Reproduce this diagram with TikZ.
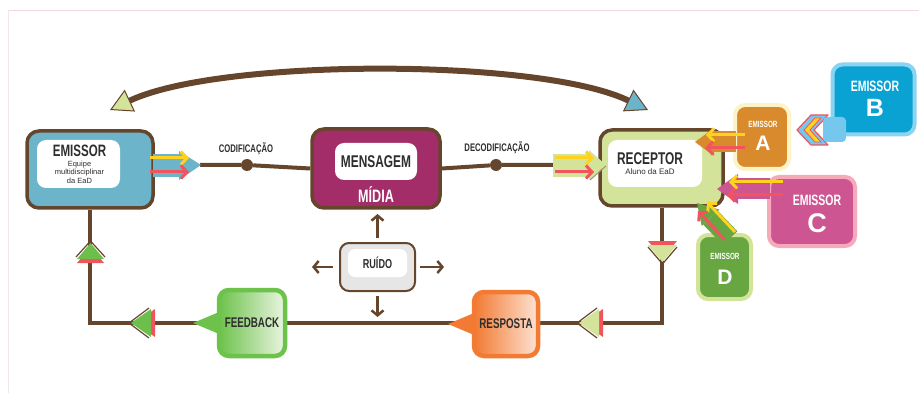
\documentclass[tikz,border=0pt]{standalone}
\usepackage{fontspec}
\setmainfont{Liberation Sans}
\newfontfamily\condfont[FakeStretch=0.7]{Liberation Sans}
\usetikzlibrary{positioning,arrows.meta}
\pgfdeclarelayer{background}
\pgfsetlayers{background,main}

\definecolor{brownline}{HTML}{65452B}
\definecolor{darktext}{HTML}{2E2E2E}
\definecolor{emblue}{HTML}{6CB4CA}
\definecolor{magmid}{HTML}{A32D68}
\definecolor{recgreen}{HTML}{D3E39A}
\definecolor{midgreen}{HTML}{6CBF4B}
\definecolor{arrowyellow}{HTML}{FFD21F}
\definecolor{arrowred}{HTML}{F2545B}
\definecolor{orangeA}{HTML}{D98A2C}
\definecolor{rimA}{HTML}{FCF3C6}
\definecolor{blueB}{HTML}{0AA2D3}
\definecolor{rimB}{HTML}{8AD3F1}
\definecolor{tabB}{HTML}{76C7EE}
\definecolor{magC}{HTML}{CD5592}
\definecolor{rimC}{HTML}{F6A9BB}
\definecolor{greenD}{HTML}{67A640}
\definecolor{rimD}{HTML}{D3E39A}
\definecolor{fbgreen}{HTML}{6DC24B}
\definecolor{fbpale}{HTML}{EAF5E2}
\definecolor{resporange}{HTML}{F27A32}
\definecolor{resppale}{HTML}{FDE3D3}
\definecolor{ruidogray}{HTML}{E6E6E6}
\definecolor{framepink}{HTML}{F2D8DC}
\definecolor{framegray}{HTML}{F0E8E8}

\tikzstyle{caixa} = [rectangle,rounded corners=12pt,draw=brownline,line width=3.5pt,inner sep=0pt]
\tikzstyle{miolo} = [rectangle,rounded corners=9pt,fill=white,inner sep=0pt]
\tikzstyle{titulo} = [font=\condfont\bfseries\fontsize{17}{17}\selectfont,text=darktext,inner sep=0pt]
\tikzstyle{legenda} = [font=\fontsize{7.5}{8.3}\selectfont,text=darktext,align=center,inner sep=0pt]
\tikzstyle{rotulo} = [font=\condfont\bfseries\fontsize{11}{11}\selectfont,text=darktext,inner sep=0pt]
\tikzstyle{fluxo} = [draw=brownline,line width=4pt]
\tikzstyle{ponto} = [circle,fill=brownline,minimum size=12pt,inner sep=0pt]
\tikzstyle{seta} = [line width=3pt,-{Straight Barb[length=6pt,width=13pt]}]
\tikzstyle{ruidoseta} = [draw=brownline,line width=2.5pt,-{Straight Barb[length=5pt,width=12pt]}]
\tikzstyle{retorno} = [rectangle,rounded corners=10pt,line width=4.5pt,inner sep=0pt,font=\condfont\bfseries\fontsize{14}{14}\selectfont,text=darktext]
\tikzstyle{lado} = [rectangle,rounded corners=10pt,line width=4pt,inner sep=0pt]
\tikzstyle{ladotxt} = [font=\condfont\bfseries\fontsize{9}{9}\selectfont,text=white,inner sep=0pt]
\tikzstyle{letra} = [font=\bfseries\fontsize{21}{21}\selectfont,text=white,inner sep=0pt]

\begin{document}
\begin{tikzpicture}[x=1pt,y=-1pt]
    \useasboundingbox (0,0) rectangle (919,393);

    % Boxes
    \node[caixa,fill=emblue,minimum width=126pt,minimum height=77pt] (emissor) at (90,169.5) {};
    \node[miolo,minimum width=83pt,minimum height=48pt] (emmiolo) at (78.5,164) {};
    \node[titulo,font=\condfont\bfseries\fontsize{16.5}{16.5}\selectfont] (emtitulo) at (79.5,151) {EMISSOR};
    \node[legenda,below=4pt of emtitulo] (emsub) {Equipe\\multidisciplinar\\da EaD};

    \node[caixa,fill=magmid,minimum width=128pt,minimum height=79pt] (mensagem) at (376,168.5) {};
    \node[miolo,titulo,minimum width=82pt,minimum height=37pt] (msgmiolo) at (376,161.5) {MENSAGEM};
    \node[titulo,text=white,font=\condfont\bfseries\fontsize{18}{18}\selectfont] (midia) at (376,195) {MÍDIA};

    \node[caixa,fill=recgreen,minimum width=123pt,minimum height=76pt] (receptor) at (661.5,168) {};
    \node[miolo,minimum width=94pt,minimum height=47pt] (recmiolo) at (655,163.5) {};
    \node[titulo] (rectitulo) at (650,159) {RECEPTOR};
    \node[legenda,font=\fontsize{8}{9}\selectfont,below=3pt of rectitulo] (recsub) {Aluno da EaD};

    \node[rectangle,rounded corners=9pt,draw=brownline,line width=2pt,fill=ruidogray,minimum width=75pt,minimum height=48pt] (ruido) at (377.5,267) {};
    \node[miolo,rounded corners=7pt,titulo,font=\condfont\bfseries\fontsize{13}{13}\selectfont,minimum width=59pt,minimum height=28pt] (ruidomiolo) at (377.5,263) {RUÍDO};

    \node[retorno,draw=resporange,left color=resporange,right color=resppale,minimum size=64pt] (resposta) at (506,324) {RESPOSTA};
    \node[retorno,draw=fbgreen,left color=fbgreen,right color=fbpale,minimum size=66pt] (feedback) at (252,323) {FEEDBACK};

    % Labels
    \node[rotulo] (codif) at (246,149) {CODIFICAÇÃO};
    \node[rotulo] (decodif) at (497,148) {DECODIFICAÇÃO};
    \node[ponto] (coddot) at (247,165) {};
    \node[ponto] (decdot) at (496,165) {};

    % Points
    \coordinate (codtail) at (200,165);
    \coordinate (dectail) at (553,165);
    \coordinate (c1) at (661.5,323);
    \coordinate (c2) at (90,323);
    \coordinate (arcR) at (648,110);
    \coordinate (arcL) at (110,110);
    \coordinate (resptip) at (448,324);
    \coordinate (fbtip) at (193,323);

    % Lines
    \begin{pgfonlayer}{background}
        \draw[framepink,line width=0.8pt] (8,10) -- (919,10);
        \draw[framegray,line width=0.8pt] (8,10) -- (8,393);
        \draw[fluxo] (codtail) -- (coddot) -- (mensagem.west);
        \draw[fluxo] (mensagem.east) -- (decdot) -- (dectail);
        \draw[fluxo] (receptor.south) -- (c1) -- (c2) -- (emissor.south);
    \end{pgfonlayer}

    % Top arc
    \draw[draw=brownline,line width=6pt,{Triangle[length=22pt,width=24pt,line width=1pt,fill=emblue]}-{Triangle[length=22pt,width=24pt,line width=1pt,fill=recgreen]}] (arcR) .. controls (540,58) and (220,58) .. (arcL);

    % Bubble pointers
    \fill[resporange] ([yshift=10pt]resposta.west) -- (resptip) -- ([yshift=-10pt]resposta.west) -- cycle;
    \fill[fbgreen] ([yshift=10pt]feedback.west) -- (fbtip) -- ([yshift=-10pt]feedback.west) -- cycle;

    % Arrow into mensagem
    \fill[emblue] (153,154) rectangle (182,177);
    \fill[emblue] (179,151) -- (201,165) -- (179,180) -- cycle;
    \draw[seta,arrowyellow] (150,158) -- (189,158);
    \draw[seta,arrowred] (150,172) -- (189,172);

    % Arrow into receptor
    \fill[recgreen] (553,154) rectangle (592,177);
    \fill[recgreen] (589,150) -- (606,165) -- (589,180) -- cycle;
    \draw[brownline!60,line width=1pt] (606,166) -- (590,180);
    \draw[seta,arrowyellow] (555,158) -- (594,158);
    \draw[seta,arrowred] (555,172) -- (594,172);

    % Loop triangles
    \fill[arrowred] (648,241) -- (677,241) -- (662.5,258) -- cycle;
    \fill[recgreen] (648,245) -- (677,245) -- (662.5,262) -- cycle;
    \draw[brownline,line width=1.2pt] (648,247) -- (662.5,264) -- (677,247);

    \fill[arrowred] (603,309) -- (603,337) -- (583,323) -- cycle;
    \fill[recgreen] (599,309) -- (599,337) -- (579,323) -- cycle;
    \draw[brownline,line width=1.2pt] (597,308) -- (577,323) -- (597,338);

    \fill[arrowred] (155,309) -- (155,337) -- (135,323) -- cycle;
    \fill[midgreen] (151,309) -- (151,337) -- (131,323) -- cycle;
    \draw[brownline,line width=1.2pt] (149,308) -- (129,323) -- (149,338);

    \fill[arrowred] (77,263) -- (104,263) -- (90.5,247) -- cycle;
    \fill[midgreen] (77,259) -- (104,259) -- (90.5,243) -- cycle;
    \draw[brownline,line width=1.2pt] (76,257) -- (90.5,241) -- (105,257);

    % Noise arrows
    \draw[ruidoseta] ([yshift=4pt]ruido.north) -- ++(0,-24);
    \draw[ruidoseta] ([xshift=-6pt]ruido.west) -- ++(-21,0);
    \draw[ruidoseta] ([xshift=4pt]ruido.east) -- ++(24,0);
    \draw[ruidoseta] ([yshift=-4pt]ruido.south) -- ++(0,21);

    % Other emissors
    \node[lado,draw=rimB,fill=blueB,minimum width=82pt,minimum height=70pt] (emb) at (873.5,99.5) {};
    \node[ladotxt,font=\condfont\bfseries\fontsize{15}{15}\selectfont] (embtxt) at (875,86) {EMISSOR};
    \node[letra,font=\bfseries\fontsize{25}{25}\selectfont] (embletra) at (875,108) {B};
    \filldraw[fill=tabB,draw=arrowred,line width=1.2pt,line join=round] (797,130) -- (811,115) -- (828,115) -- (814,130) -- (828,145) -- (811,145) -- cycle;
    \filldraw[fill=arrowyellow,draw=arrowred,line width=0.8pt] (804,130) -- (815,118) -- (821,118) -- (810,130) -- (821,142) -- (815,142) -- cycle;
    \fill[tabB,rounded corners=4pt] (823,117) rectangle (846,142);

    \node[lado,draw=rimA,fill=orangeA,minimum width=54pt,minimum height=64pt] (ema) at (762,137) {};
    \node[ladotxt] (ematxt) at (763,124) {EMISSOR};
    \node[letra] (emaletra) at (763,143.5) {A};
    \fill[orangeA] (713,131) rectangle (736,152);
    \fill[orangeA] (695,142) -- (714,128) -- (714,156) -- cycle;
    \draw[seta,arrowyellow] (745,135) -- (706,135);
    \draw[seta,arrowred] (745,148) -- (705,148);

    \node[lado,draw=rimC,fill=magC,minimum width=86pt,minimum height=69pt] (emc) at (812,211.5) {};
    \node[ladotxt,font=\condfont\bfseries\fontsize{15}{15}\selectfont] (emctxt) at (817,200) {EMISSOR};
    \node[letra,font=\bfseries\fontsize{27}{27}\selectfont] (emcletra) at (817,223) {C};
    \fill[magC] (736,178) rectangle (770,199);
    \fill[magC] (717,189) -- (738,174) -- (738,204) -- cycle;
    \draw[seta,arrowyellow] (783,182) -- (729,182);
    \draw[seta,arrowred] (783,195) -- (727,195);

    \node[lado,draw=rimD,fill=greenD,minimum width=53pt,minimum height=64pt] (emd) at (724.5,267) {};
    \node[ladotxt] (emdtxt) at (725,256) {EMISSOR};
    \node[letra] (emdletra) at (725,277) {D};
    \fill[greenD] (717.9,210.9) -- (737.4,231.3) -- (722.6,244.8) -- (703.1,224.5) -- cycle;
    \fill[greenD] (697,203) -- (719.3,209.6) -- (701.7,225.8) -- cycle;
    \draw[seta,arrowyellow] (735,232) -- (707,202);
    \draw[seta,arrowred] (725,240) -- (698,211);
\end{tikzpicture}
\end{document}
